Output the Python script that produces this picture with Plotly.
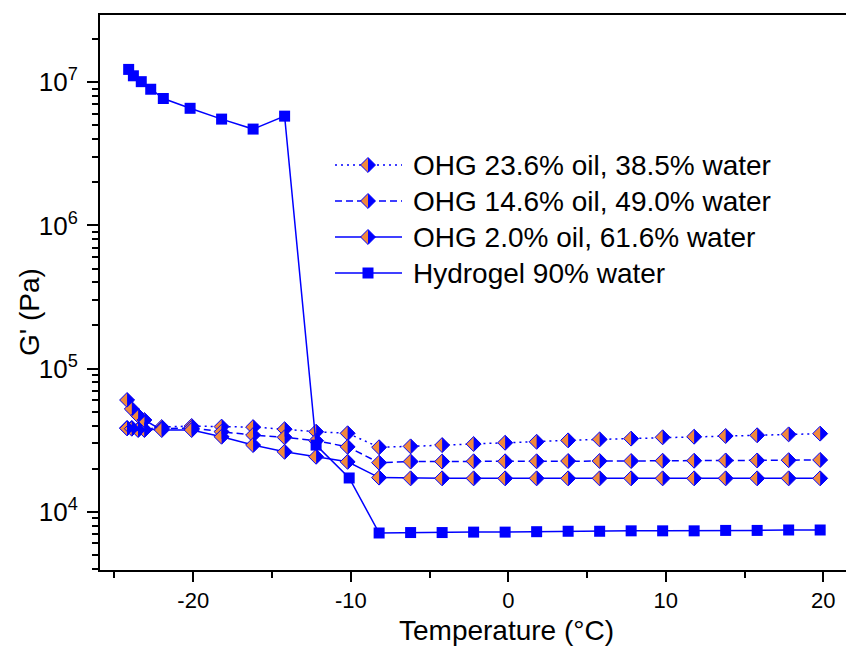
import plotly.graph_objects as go

# ---------------- data ----------------
temp_ohg = [-24.2, -23.9, -23.5, -23.1, -22.0, -20.1, -18.2, -16.2, -14.2, -12.2, -10.2,
            -8.2, -6.2, -4.2, -2.2, -0.2, 1.8, 3.8, 5.8, 7.8, 9.8, 11.8, 13.8, 15.8, 17.8, 19.8]
ohg_236 = [3.85e4, 3.85e4, 3.75e4, 3.75e4, 3.9e4, 3.97e4, 3.93e4, 3.9e4, 3.77e4, 3.62e4, 3.53e4,
           2.82e4, 2.86e4, 2.92e4, 2.97e4, 3.03e4, 3.08e4, 3.15e4, 3.2e4, 3.24e4, 3.31e4, 3.34e4,
           3.38e4, 3.42e4, 3.47e4, 3.51e4]
ohg_146 = [3.82e4, 3.8e4, 3.72e4, 3.72e4, 3.8e4, 3.85e4, 3.62e4, 3.43e4, 3.31e4, 3.13e4, 2.84e4,
           2.2e4, 2.24e4, 2.24e4, 2.25e4, 2.25e4, 2.25e4, 2.26e4, 2.26e4, 2.26e4, 2.27e4, 2.27e4,
           2.28e4, 2.28e4, 2.29e4, 2.3e4]
ohg_20 = [6.03e4, 5.22e4, 4.69e4, 4.37e4, 3.72e4, 3.72e4, 3.34e4, 2.92e4, 2.62e4, 2.42e4, 2.23e4,
          1.73e4, 1.71e4, 1.71e4, 1.71e4, 1.71e4, 1.71e4, 1.71e4, 1.71e4, 1.71e4, 1.71e4, 1.71e4,
          1.71e4, 1.71e4, 1.71e4, 1.71e4]
temp_hyd = [-24.1, -23.8, -23.3, -22.7, -21.9, -20.2, -18.2, -16.2, -14.2, -12.2, -10.1,
            -8.2, -6.2, -4.2, -2.2, -0.2, 1.8, 3.8, 5.8, 7.8, 9.8, 11.8, 13.8, 15.8, 17.8, 19.8]
hydrogel = [1.23e7, 1.11e7, 1.01e7, 8.94e6, 7.7e6, 6.58e6, 5.53e6, 4.71e6, 5.8e6, 2.92e4, 1.72e4,
            7.1e3, 7.15e3, 7.15e3, 7.2e3, 7.2e3, 7.25e3, 7.3e3, 7.3e3, 7.35e3, 7.35e3, 7.35e3,
            7.4e3, 7.4e3, 7.45e3, 7.45e3]

names = ["OHG 23.6% oil, 38.5% water", "OHG 14.6% oil, 49.0% water",
         "OHG 2.0% oil, 61.6% water", "Hydrogel 90% water"]
x_title = "Temperature (°C)"
y_title = "G' (Pa)"
x_ticks = [-20, -10, 0, 10, 20]
x_ticktext = ["-20", "-10", "0", "10", "20"]
y_ticks = [1e4, 1e5, 1e6, 1e7]
y_ticktext = ["10<sup>4</sup>", "10<sup>5</sup>", "10<sup>6</sup>", "10<sup>7</sup>"]

# ---------------- style ----------------
BLUE = "#0000FF"
ORANGE = "#F0883C"
FONT = "Arial, Liberation Sans, sans-serif"
W, H = 846, 649
L, R, T, B = 100, 0, 15, 79
DIAM = 11.5
HALF = DIAM * 0.65
dashes = ["2px,4px", "7px,4px", "solid"]

fig = go.Figure()
shapes = []
series = [ohg_236, ohg_146, ohg_20]
for vals, nm, dsh in zip(series, names[:3], dashes):
    fig.add_trace(go.Scatter(
        x=temp_ohg, y=vals, name=nm, mode="lines+markers",
        line=dict(color=BLUE, width=1.5, dash=dsh),
        marker=dict(symbol="diamond", size=DIAM, color=ORANGE, line=dict(color=BLUE, width=1)),
        showlegend=False))
    for t, v in zip(temp_ohg, vals):
        shapes.append(dict(type="path", xref="x", yref="y", xsizemode="pixel", ysizemode="pixel",
                           xanchor=t, yanchor=v,
                           path=f"M0,{HALF} L{HALF},0 L0,{-HALF} Z",
                           fillcolor=BLUE, line=dict(width=0), layer="above"))

fig.add_trace(go.Scatter(
    x=temp_hyd, y=hydrogel, name=names[3], mode="lines+markers",
    line=dict(color=BLUE, width=1.5),
    marker=dict(symbol="square", size=11, color=BLUE),
    showlegend=False))

# ---------------- manual legend ----------------
pw, ph = W - L - R, H - T - B
def px(xp):
    return (xp - L) / pw
def py(yp):
    return (H - B - yp) / ph

leg_rows = [165, 201, 237, 273]
annotations = []
for i, (nm, yrow) in enumerate(zip(names, leg_rows)):
    dsh = dashes[i] if i < 3 else "solid"
    shapes.append(dict(type="line", xref="paper", yref="paper", x0=px(335), x1=px(402),
                       y0=py(yrow), y1=py(yrow), line=dict(color=BLUE, width=1.5, dash=dsh)))
    if i < 3:
        shapes.append(dict(type="path", xref="paper", yref="paper", xsizemode="pixel",
                           ysizemode="pixel", xanchor=px(368), yanchor=py(yrow),
                           path=f"M0,{HALF} L{-HALF},0 L0,{-HALF} Z",
                           fillcolor=ORANGE, line=dict(width=0)))
        shapes.append(dict(type="path", xref="paper", yref="paper", xsizemode="pixel",
                           ysizemode="pixel", xanchor=px(368), yanchor=py(yrow),
                           path=f"M0,{HALF} L{HALF},0 L0,{-HALF} Z",
                           fillcolor=BLUE, line=dict(width=0)))
        shapes.append(dict(type="path", xref="paper", yref="paper", xsizemode="pixel",
                           ysizemode="pixel", xanchor=px(368), yanchor=py(yrow),
                           path=f"M0,{HALF} L{HALF},0 L0,{-HALF} L{-HALF},0 Z",
                           fillcolor="rgba(0,0,0,0)", line=dict(color=BLUE, width=1)))
    else:
        shapes.append(dict(type="rect", xref="paper", yref="paper", xsizemode="pixel",
                           ysizemode="pixel", xanchor=px(368), yanchor=py(yrow),
                           x0=-5.5, x1=5.5, y0=-5.5, y1=5.5,
                           fillcolor=BLUE, line=dict(width=0)))
    annotations.append(dict(text=nm, xref="paper", yref="paper", x=px(411), y=py(yrow),
                            xanchor="left", yanchor="middle", showarrow=False,
                            font=dict(size=28, color="black", family=FONT)))

annotations.append(dict(text=x_title, xref="paper", yref="paper", x=px(506), y=py(630),
                        xanchor="center", yanchor="middle", showarrow=False,
                        font=dict(size=28, color="black", family=FONT)))
annotations.append(dict(text=y_title, xref="paper", yref="paper", x=px(29), y=py(312),
                        xanchor="center", yanchor="middle", showarrow=False, textangle=-90,
                        font=dict(size=28, color="black", family=FONT)))

fig.update_layout(
    width=W, height=H,
    margin=dict(l=L, r=R, t=T, b=B, pad=0),
    paper_bgcolor="white", plot_bgcolor="white",
    font=dict(family=FONT, color="black"),
    shapes=shapes, annotations=annotations,
    showlegend=False,
    xaxis=dict(range=[-25.92, 21.44], tickvals=x_ticks, ticktext=x_ticktext,
               ticks="outside", ticklen=10,
               tickwidth=1.5, tickcolor="black", showline=True, linewidth=2, linecolor="black",
               mirror=True, showgrid=False, zeroline=False,
               tickfont=dict(size=22, family=FONT, color="black"),
               minor=dict(ticks="outside", ticklen=6, tickwidth=1.5, tickcolor="black",
                          dtick=5, tick0=0, showgrid=False)),
    yaxis=dict(type="log", range=[3.5927, 7.470], tickvals=y_ticks, ticktext=y_ticktext,
               ticks="outside", ticklen=11, tickwidth=1.5, tickcolor="black",
               showline=True, linewidth=2, linecolor="black", showgrid=False, zeroline=False,
               ticklabelstandoff=4,
               tickfont=dict(size=26, family=FONT, color="black"),
               minor=dict(ticks="outside", ticklen=6, tickwidth=1.5, tickcolor="black",
                          dtick="D1", showgrid=False)),
)

fig.write_html("out.html")
